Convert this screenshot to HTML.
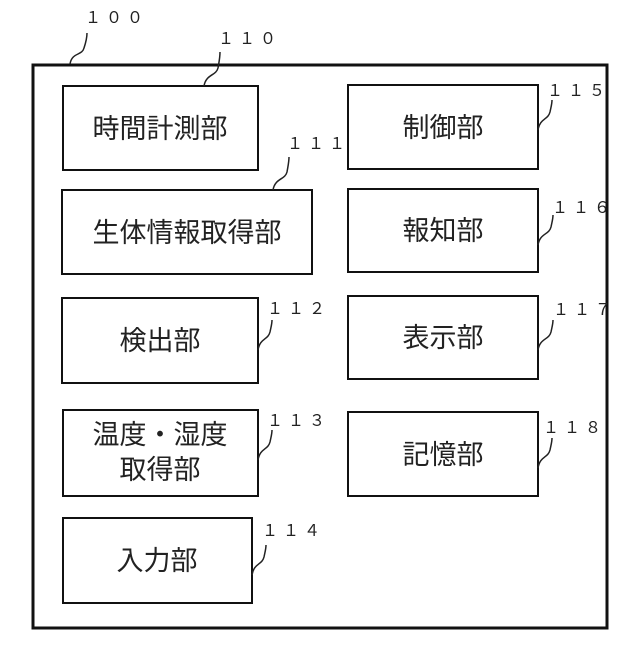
<!DOCTYPE html>
<html><head><meta charset="utf-8"><style>
html,body{margin:0;padding:0;background:#fff}
svg text{font-family:"Liberation Sans","Noto Sans CJK JP",sans-serif;fill:#222}
.b{font-size:27px;text-anchor:middle}
.n{font-size:16px;letter-spacing:5px}
</style></head><body>
<svg width="640" height="640" viewBox="0 0 640 640" xmlns="http://www.w3.org/2000/svg">
<g fill="none" stroke="#111" stroke-width="2">
<rect x="33" y="65" width="574" height="563" stroke-width="3"/>
<rect x="63" y="86" width="195" height="84"/>
<rect x="62" y="190" width="250" height="84"/>
<rect x="62" y="298" width="196" height="85"/>
<rect x="63" y="410" width="195" height="86"/>
<rect x="63" y="518" width="189" height="85"/>
<rect x="348" y="85" width="190" height="84"/>
<rect x="348" y="189" width="190" height="83"/>
<rect x="348" y="296" width="190" height="83"/>
<rect x="348" y="412" width="190" height="84"/>
</g>
<g fill="none" stroke="#222" stroke-width="1.5">
<path d="M70 64 C72 52,82 56,84 48 C86 42,87 38,87 33"/>
<path d="M204 86 C206 74,216 76,218 68 C219 62,220 58,220 52"/>
<path d="M273 190 C275 178,285 180,287 172 C288 166,289 162,289 157"/>
<path d="M258 350 C260 338,268 340,270 332 C271 327,272 324,272 320"/>
<path d="M258 460 C260 448,268 450,270 442 C271 437,272 434,272 430"/>
<path d="M252 575 C254 563,262 565,264 557 C265 552,266 549,266 545"/>
<path d="M538 130 C540 118,548 120,550 112 C551 107,552 104,552 100"/>
<path d="M538 245 C540 233,549 235,551 227 C552 222,553 219,553 215"/>
<path d="M538 350 C540 338,549 340,551 332 C552 327,553 324,553 320"/>
<path d="M538 468 C540 456,548 458,550 450 C551 445,552 442,552 438"/>
</g>
<text class="b" x="160" y="138">時間計測部</text>
<text class="b" x="187" y="242">生体情報取得部</text>
<text class="b" x="160" y="350">検出部</text>
<text class="b" x="160" y="444">温度・湿度</text>
<text class="b" x="160" y="479">取得部</text>
<text class="b" x="157" y="570">入力部</text>
<text class="b" x="443" y="137">制御部</text>
<text class="b" x="443" y="240">報知部</text>
<text class="b" x="443" y="347">表示部</text>
<text class="b" x="443" y="464">記憶部</text>
<text class="n" x="85" y="23">１００</text>
<text class="n" x="218" y="44">１１０</text>
<text class="n" x="287" y="149">１１１</text>
<text class="n" x="267" y="314">１１２</text>
<text class="n" x="267" y="426">１１３</text>
<text class="n" x="262" y="536">１１４</text>
<text class="n" x="547" y="96">１１５</text>
<text class="n" x="552" y="213">１１６</text>
<text class="n" x="553" y="315">１１７</text>
<text class="n" x="543" y="433">１１８</text>
</svg>
</body></html>
